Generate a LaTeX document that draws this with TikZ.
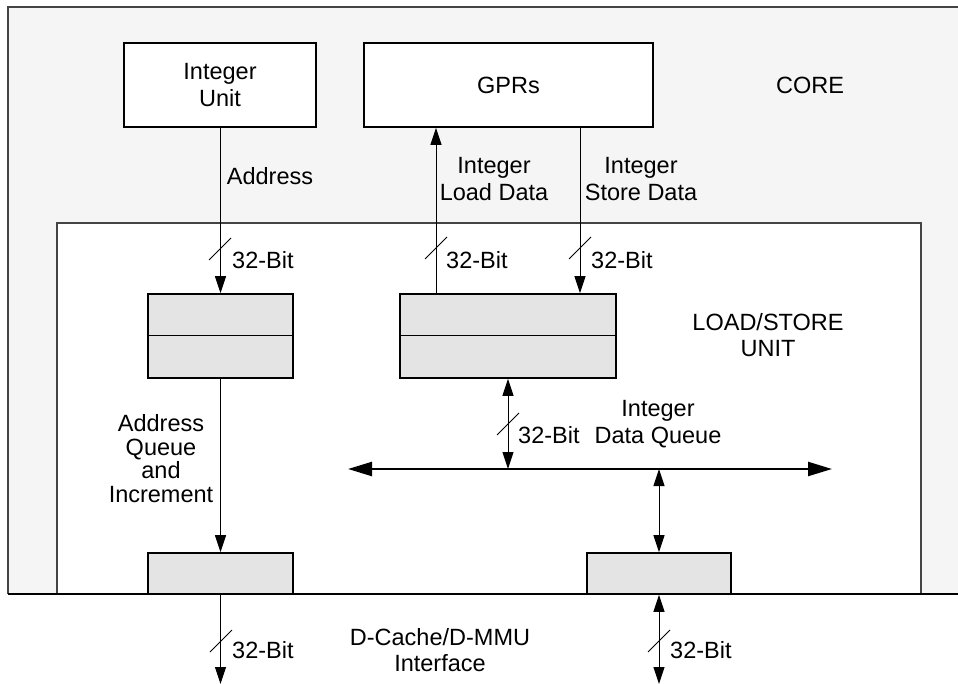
\documentclass[tikz,border=0pt]{standalone}
\usepackage{fontspec}
\setmainfont{Liberation Sans}
\usetikzlibrary{arrows.meta}
\definecolor{coregray}{HTML}{F5F5F5}
\definecolor{queuegray}{HTML}{E4E4E4}
\definecolor{framegray}{HTML}{444444}

\begin{document}
\begin{tikzpicture}[x=1pt,y=-1pt,
  every node/.style={font=\fontsize{23.5}{26.5}\selectfont, align=center, inner sep=0pt},
  unitbox/.style={draw=black, line width=1.6pt, fill=white, minimum width=#1, minimum height=84pt},
  queuebox/.style={draw=black, line width=1.6pt, fill=queuegray, minimum width=#1, minimum height=84pt},
  latchbox/.style={draw=black, line width=1.6pt, fill=queuegray, minimum width=#1, minimum height=41pt},
  wire/.style={line width=1pt},
  tip/.style={-{Triangle[length=17pt,width=11pt]}},
  bitip/.style={{Triangle[length=17pt,width=11pt]}-{Triangle[length=17pt,width=11pt]}},
  bustip/.style={{Triangle[length=24pt,width=14pt]}-{Triangle[length=24pt,width=14pt]}},
  slash/.style={line width=0.8pt},
  buslabel/.style={anchor=west}
]
\useasboundingbox (0,0) rectangle (958,684);

% core area (runs off the right edge)
\fill[coregray] (8,7) rectangle (962,594);
\draw[framegray, line width=2pt] (962,7) -- (8,7) -- (8,594);
% load/store unit
\draw[framegray, line width=2pt, fill=white] (57,594) -- (57,223) -- (921,223) -- (921,594);
\draw[black, line width=1.5pt] (8,594) -- (962,594);

% core units
\node[unitbox=192pt] (iu) at (220,85) {Integer\\Unit};
\node[unitbox=289pt] (gpr) at (508.5,85) {GPRs};
\node (core) at (810,85.5) {CORE};

% queues
\node[queuebox=145pt] (aq) at (220.5,336) {};
\draw[line width=1pt] (aq.west) -- (aq.east);
\node[queuebox=216pt] (dq) at (508,336) {};
\draw[line width=1pt] (dq.west) -- (dq.east);
\node (lsu) at (768,335) {LOAD/STORE\\UNIT};

% interface latches
\node[latchbox=145pt] (la) at (220.5,573.5) {};
\node[latchbox=144pt] (ld) at (659,573.5) {};

% helper coordinates
\coordinate (ldx) at (436,0);
\coordinate (stx) at (580,0);
\coordinate (busL) at (348,469);
\coordinate (busR) at (832,469);
\coordinate (bot) at (0,684);

% address path
\draw[wire, tip] (iu.south -| aq.north) -- (aq.north);
\node (addr) at (270,176) {Address};
\draw[slash] (209,260) -- (231,238);
\node[buslabel] (b1) at (232,260) {32-Bit};

% load / store data
\draw[wire, tip] (ldx |- dq.north) -- (ldx |- gpr.south);
\draw[wire, tip] (stx |- gpr.south) -- (stx |- dq.north);
\node (ild) at (494,179) {Integer\\Load Data};
\node (isd) at (641,179) {Integer\\Store Data};
\draw[slash] (425,259) -- (447,237);
\node[buslabel] (b2) at (446,260) {32-Bit};
\draw[slash] (569,259) -- (591,237);
\node[buslabel] (b3) at (591,260) {32-Bit};

% address queue to latch
\draw[wire, tip] (aq.south) -- (la.north);
\node[font=\fontsize{23.5}{23.5}\selectfont] (aqi) at (161,458.5) {Address\\Queue\\and\\Increment};

% data bus
\draw[line width=2.3pt, bustip] (busL) -- (busR);
\draw[wire, bitip] (dq.south) -- (dq.south |- busL);
\draw[slash] (497,435) -- (519,413);
\node[buslabel] (b4) at (518,435) {32-Bit};
\node (idq) at (658,424) {Integer\\Data Queue};
\draw[wire, bitip] (ld.south |- busL) -- (ld.north);

% external interface
\draw[wire, tip] (la.south) -- (la.south |- bot);
\draw[slash] (210,652) -- (232,630);
\node[buslabel] (b5) at (232,650) {32-Bit};
\draw[wire, bitip] (ld.south) -- (ld.south |- bot);
\draw[slash] (648,652) -- (670,630);
\node[buslabel] (b6) at (670,650) {32-Bit};
\node (dc) at (440,650) {D-Cache/D-MMU\\Interface};
\end{tikzpicture}
\end{document}
